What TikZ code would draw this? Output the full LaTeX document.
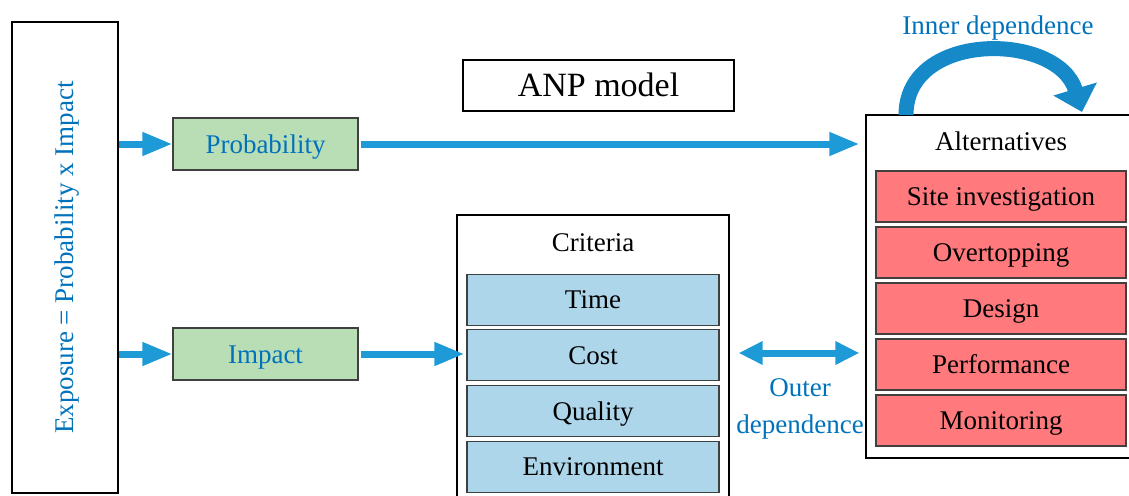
\documentclass[tikz,border=0pt]{standalone}
\usepackage{fontspec}
\setmainfont{Liberation Serif}
\usetikzlibrary{positioning, arrows.meta}

\definecolor{boxline}{RGB}{64,64,64}
\definecolor{greenfill}{RGB}{185,222,181}
\definecolor{bluefill}{RGB}{174,214,234}
\definecolor{redfill}{RGB}{255,121,125}
\definecolor{arrowblue}{RGB}{30,155,215}
\definecolor{curveblue}{RGB}{22,138,200}
\definecolor{txtblue}{RGB}{0,114,188}

\newcommand{\anpfont}{\fontsize{27}{37}\selectfont}

\begin{document}
\begin{tikzpicture}[x=1pt,y=-1pt,
  frame/.style={draw=black,line width=1.1pt,inner sep=0pt},
  cell/.style={draw=boxline,line width=1.1pt,inner sep=0pt,minimum height=51pt,
    font=\anpfont,text height=21pt,text depth=3pt},
  factor/.style={cell,fill=greenfill,text=txtblue,minimum width=185pt,minimum height=52pt},
  critcell/.style={cell,fill=bluefill,minimum width=252pt},
  altcell/.style={cell,fill=redfill,minimum width=250pt},
  fatarrow/.style={draw=arrowblue,line width=7pt,-{Triangle[length=30pt,width=22pt]}},
  bluetext/.style={text=txtblue,font=\anpfont,align=center}]

  \useasboundingbox (0,0) rectangle (1129,495);

  % left frame
  \node[frame,minimum width=106pt,minimum height=471pt] (expo) at (65,257.5) {};
  \node[bluetext,rotate=90] (expotext) at (67,257.5) {Exposure = Probability x Impact};

  \node[factor] (prob) at (265.5,144) {Probability};
  \node[factor] (imp) at (265.5,354) {Impact};

  \node[frame,minimum width=271pt,minimum height=51pt,font=\fontsize{34}{40}\selectfont,
    text height=26pt,text depth=4pt] (anp) at (598.5,85.5) {ANP model};

  % criteria cluster
  \node[frame,minimum width=272pt,minimum height=290pt] (crit) at (593,360) {};
  \node[font=\anpfont,text height=21pt,text depth=3pt] (critlabel) at (593,242) {Criteria};
  \foreach \name [count=\i] in {Time,Cost,Quality,Environment}
    \node[critcell] (crit\i) at (593,244+55.7*\i) {\name};

  % alternatives cluster
  \node[frame,fill=white,minimum width=270pt,minimum height=343pt] (alt) at (1001,286.5) {};
  \node[font=\anpfont,text height=21pt,text depth=3pt] (altlabel) at (1001,141) {Alternatives};
  \foreach \name [count=\i] in {Site investigation,Overtopping,Design,Performance,Monitoring}
    \node[altcell] (alt\i) at (1001,140.5+56*\i) {\name};

  % arrows
  \draw[fatarrow] (expo.east |- prob.west) -- (prob.west);
  \draw[fatarrow] (expo.east |- imp.west) -- (imp.west);
  \draw[fatarrow,shorten <=2pt,shorten >=6pt] (prob.east) -- (alt.west |- prob.east);
  \draw[fatarrow,shorten <=2pt,shorten >=2pt] (imp.east) -- (crit2.west |- imp.east);
  \draw[fatarrow,{Triangle[length=24pt,width=22pt]}-{Triangle[length=24pt,width=22pt]},shorten <=9pt,shorten >=6pt]
    (crit.east |- 0,353) -- (alt.west |- 0,353);

  \node[bluetext] (outer) at (800,409) {Outer\\dependence};

  % inner dependence loop
  \coordinate (loopstart) at (906,115);
  \coordinate (loopend) at (1082,112);
  \draw[draw=curveblue,line width=15pt,-{Triangle[length=24pt,width=44pt]}]
    (loopstart) .. controls (906,30) and (1058,32) .. (loopend);
  \node[bluetext,text height=21pt,text depth=3pt] (inner) at (998,26) {Inner dependence};

\end{tikzpicture}
\end{document}
